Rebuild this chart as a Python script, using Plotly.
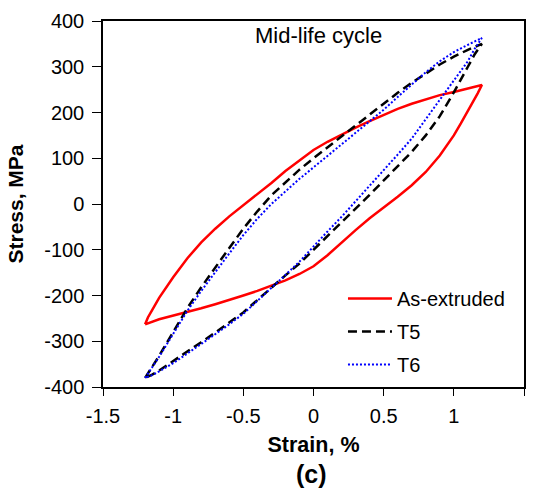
import plotly.graph_objects as go

# ---------------- data (strain %, stress MPa) ----------------
asx_up_strain = [-1.2, -1.18, -1.15, -1.1, -1.0, -0.9, -0.8, -0.7, -0.6, -0.5, -0.4, -0.3, -0.2, -0.1, 0.0,
                 0.1, 0.2, 0.3, 0.4, 0.5, 0.6, 0.7, 0.8, 0.9, 1.0, 1.1, 1.2]
asx_up_stress = [-263, -248, -232, -205, -160, -119, -84, -54, -27, -3, 21, 46, 72, 96, 118,
                 136, 152, 167, 181, 195, 208, 219, 229, 238, 245, 253, 260]
asx_dn_strain = [1.2, 1.17, 1.13, 1.1, 1.05, 1.0, 0.9, 0.8, 0.7, 0.6, 0.5, 0.4, 0.3, 0.2, 0.1, 0.0,
                 -0.1, -0.2, -0.3, -0.4, -0.5, -0.6, -0.7, -0.8, -0.9, -1.0, -1.1, -1.2]
asx_dn_stress = [260, 242, 219, 202, 176, 150, 106, 70, 41, 16, -7, -31, -57, -85, -112, -136,
                 -153, -167, -179, -190, -200, -210, -219, -228, -236, -244, -252, -263]

t5_up_strain = [-1.2, -1.15, -1.1, -1.0, -0.9, -0.8, -0.7, -0.6, -0.5, -0.4, -0.3, -0.2, -0.1, 0.0,
                0.1, 0.2, 0.3, 0.4, 0.5, 0.6, 0.7, 0.8, 0.9, 1.0, 1.1, 1.2]
t5_up_stress = [-380, -357, -332, -280, -228, -182, -138, -96, -54, -16, 19, 48, 75, 100,
                124, 148, 172, 196, 220, 243, 265, 286, 305, 322, 337, 350]
t5_dn_strain = [1.2, 1.15, 1.1, 1.0, 0.9, 0.8, 0.7, 0.6, 0.5, 0.4, 0.3, 0.2, 0.1, 0.0,
                -0.1, -0.2, -0.3, -0.4, -0.5, -0.6, -0.7, -0.8, -0.9, -1.0, -1.1, -1.15, -1.2]
t5_dn_stress = [350, 328, 300, 244, 192, 150, 114, 82, 50, 20, -10, -40, -70, -102,
                -130, -156, -182, -210, -237, -260, -281, -302, -323, -344, -364, -373, -380]

t6_up_strain = [-1.2, -1.15, -1.1, -1.0, -0.9, -0.8, -0.7, -0.6, -0.5, -0.4, -0.3, -0.2, -0.1, 0.0,
                0.1, 0.2, 0.3, 0.4, 0.5, 0.6, 0.7, 0.8, 0.9, 1.0, 1.1, 1.2]
t6_up_stress = [-380, -357, -334, -284, -234, -190, -148, -108, -68, -32, 0, 28, 55, 80,
                105, 130, 155, 180, 206, 234, 262, 288, 312, 332, 348, 363]
t6_dn_strain = [1.2, 1.15, 1.1, 1.0, 0.9, 0.8, 0.7, 0.6, 0.5, 0.4, 0.3, 0.2, 0.1, 0.0,
                -0.1, -0.2, -0.3, -0.4, -0.5, -0.6, -0.7, -0.8, -0.9, -1.0, -1.1, -1.15, -1.2]
t6_dn_stress = [363, 340, 312, 270, 228, 185, 143, 108, 74, 38, 6, -28, -60, -94,
                -126, -155, -183, -212, -240, -263, -285, -306, -327, -348, -366, -374, -380]

series_names = ["As-extruded", "T5", "T6"]
x_ticks = [-1.5, -1, -0.5, 0, 0.5, 1, 1.5]
x_tick_labels = ["-1.5", "-1", "-0.5", "0", "0.5", "1", "1.5"]
y_ticks = [-400, -300, -200, -100, 0, 100, 200, 300, 400]
y_tick_labels = ["-400", "-300", "-200", "-100", "0", "100", "200", "300", "400"]

FONT = "Liberation Sans, Arial, sans-serif"

fig = go.Figure()
fig.add_trace(go.Scatter(x=asx_up_strain + asx_dn_strain[1:], y=asx_up_stress + asx_dn_stress[1:],
                         mode="lines", name=series_names[0], legendgroup="a",
                         line=dict(color="#FF0000", width=2.5)))
fig.add_trace(go.Scatter(x=t5_up_strain + t5_dn_strain[1:], y=t5_up_stress + t5_dn_stress[1:],
                         mode="lines", name=series_names[1], legendgroup="b",
                         line=dict(color="#000000", width=2.5, dash="9px,5px")))
fig.add_trace(go.Scatter(x=t6_up_strain + t6_dn_strain[1:], y=t6_up_stress + t6_dn_stress[1:],
                         mode="lines", name=series_names[2], legendgroup="c",
                         line=dict(color="#0000FF", width=2, dash="2px,2px")))

axis_common = dict(showline=True, linecolor="black", linewidth=1.5, mirror=True,
                   ticks="outside", tickwidth=1.3, tickcolor="black",
                   showgrid=False, zeroline=False,
                   tickfont=dict(family=FONT, size=20, color="black"))

fig.update_xaxes(range=[-1.5, 1.5], tickvals=x_ticks, ticktext=x_tick_labels,
                 ticklen=7, ticklabelstandoff=3,
                 title=dict(text="<b>Strain, %</b>", font=dict(family=FONT, size=21.5, color="black"),
                            standoff=11),
                 **axis_common)
fig.update_yaxes(range=[-400, 400], tickvals=y_ticks, ticktext=y_tick_labels,
                 ticklen=9, ticklabelstandoff=4,
                 title=dict(text="<b>Stress, MPa</b>", font=dict(family=FONT, size=21, color="black"),
                            standoff=15),
                 **axis_common)

fig.add_annotation(text="Mid-life cycle", xref="paper", yref="paper", x=0.512, y=0.96,
                   xanchor="center", yanchor="middle", showarrow=False,
                   font=dict(family=FONT, size=22, color="black"))
fig.add_annotation(text="<b>(c)</b>", xref="paper", yref="paper", x=0.495, y=-0.238,
                   xanchor="center", yanchor="middle", showarrow=False,
                   font=dict(family=FONT, size=25, color="black"))

fig.update_layout(
    width=536, height=489,
    margin=dict(l=103, r=10, t=18, b=102),
    paper_bgcolor="white", plot_bgcolor="white",
    showlegend=True,
    legend=dict(x=0.57, y=0.295, xanchor="left", yanchor="top",
                bgcolor="rgba(0,0,0,0)", borderwidth=0,
                font=dict(family=FONT, size=20, color="black"),
                tracegroupgap=4, itemwidth=44),
)

fig.write_html("out.html")
